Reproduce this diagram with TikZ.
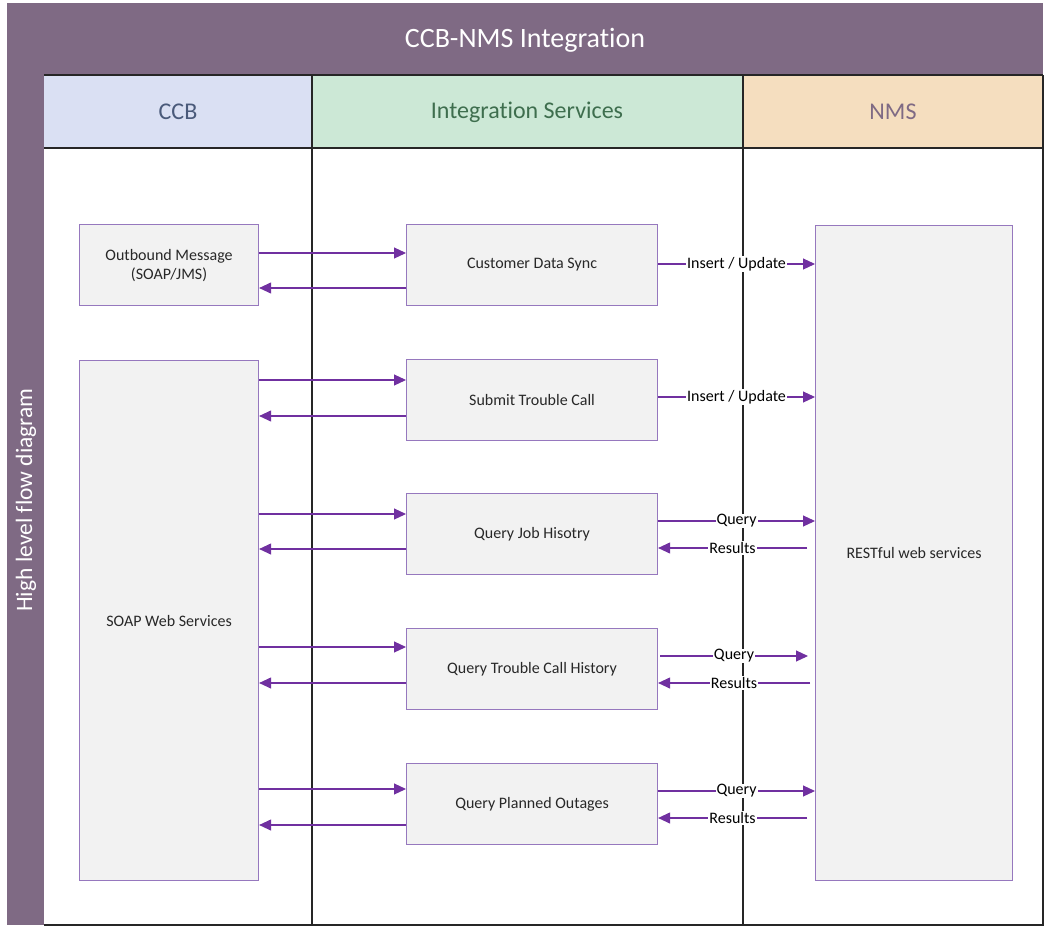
\documentclass[tikz,border=0pt]{standalone}
\usepackage{fontspec}
\setmainfont{Carlito}[Ligatures=NoCommon]
\usetikzlibrary{arrows.meta}
\definecolor{band}{RGB}{127,106,132}
\definecolor{hccb}{RGB}{218,224,243}
\definecolor{hint}{RGB}{204,232,214}
\definecolor{hnms}{RGB}{245,222,191}
\definecolor{tccb}{RGB}{74,90,122}
\definecolor{tint}{RGB}{62,110,78}
\definecolor{tnms}{RGB}{127,106,132}
\definecolor{boxfill}{RGB}{242,242,242}
\definecolor{boxline}{RGB}{150,120,190}
\definecolor{arr}{RGB}{112,48,160}
\definecolor{boxtext}{RGB}{40,40,40}
\tikzset{
  pbox/.style={draw=boxline, line width=1.1pt, fill=boxfill, inner sep=0pt, anchor=north west},
  btext/.style={font=\fontsize{16}{19}\selectfont, text=boxtext, align=center},
  flow/.style={draw=arr, line width=1.1pt, -{Triangle[length=12pt,width=11pt]}},
  lab/.style={fill=white, inner sep=1pt, font=\fontsize{16}{18}\selectfont, text=black},
  lane/.style={draw=black!85, line width=1.4pt},
  head/.style={font=\fontsize{24}{28}\selectfont},
}
\begin{document}
\begin{tikzpicture}[x=1pt,y=-1pt]
\useasboundingbox (0,0) rectangle (1052,937);
\fill[white] (0,0) rectangle (1052,937);
% title band and side strip
\fill[band] (7,3) rectangle (1043,75);
\fill[band] (7,75) rectangle (44,925);
\node[text=white, font=\fontsize{28}{32}\selectfont] (title) at (525,40) {CCB-NMS Integration};
\node[text=white, rotate=90, font=\fontsize{23.5}{28}\selectfont] (side) at (26,500) {High level flow diagram};
% header cells
\fill[hccb] (44,75) rectangle (312,148);
\fill[hint] (312,75) rectangle (743,148);
\fill[hnms] (743,75) rectangle (1043,148);
\node[text=tccb, head] (hc) at (178,112) {CCB};
\node[text=tint, head] (hi) at (527,112) {Integration Services};
\node[text=tnms, head] (hn) at (893,112) {NMS};
% body frame
\draw[lane] (44,148) -- (1043,148);
\draw[lane] (44,75) -- (1043,75);
\draw[lane] (1043,75) -- (1043,925) -- (44,925);
\draw[lane] (312,75) -- (312,925);
\draw[lane] (743,75) -- (743,925);
% boxes
\node[pbox, minimum width=179pt, minimum height=81pt] (ob) at (79,224) {};
\node[btext] at (ob.center) {Outbound Message\\(SOAP/JMS)};
\node[pbox, minimum width=179pt, minimum height=520pt] (soap) at (79,360) {};
\node[btext] at (soap.center) {SOAP Web Services};
\node[pbox, minimum width=251pt, minimum height=81pt] (cds) at (406,224) {};
\node[btext] at (cds.center) {Customer Data Sync};
\node[pbox, minimum width=251pt, minimum height=81pt] (stc) at (406,359) {};
\node[btext] at (stc.center) {Submit Trouble Call};
\node[pbox, minimum width=251pt, minimum height=81pt] (qjh) at (406,493) {};
\node[btext] at (qjh.center) {Query Job Hisotry};
\node[pbox, minimum width=251pt, minimum height=81pt] (qtch) at (406,628) {};
\node[btext] at (qtch.center) {Query Trouble Call History};
\node[pbox, minimum width=251pt, minimum height=81pt] (qpo) at (406,763) {};
\node[btext] at (qpo.center) {Query Planned Outages};
\node[pbox, minimum width=197pt, minimum height=655pt] (rest) at (815,225) {};
\node[btext] at (rest.center) {RESTful web services};
% CCB <-> Integration
\draw[flow] (ob.east |- 0,253) -- (cds.west |- 0,253);
\draw[flow] (cds.west |- 0,288) -- (ob.east |- 0,288);
\draw[flow] (soap.east |- 0,380) -- (stc.west |- 0,380);
\draw[flow] (stc.west |- 0,416) -- (soap.east |- 0,416);
\draw[flow] (soap.east |- 0,514) -- (qjh.west |- 0,514);
\draw[flow] (qjh.west |- 0,549) -- (soap.east |- 0,549);
\draw[flow] (soap.east |- 0,647) -- (qtch.west |- 0,647);
\draw[flow] (qtch.west |- 0,683) -- (soap.east |- 0,683);
\draw[flow] (soap.east |- 0,789) -- (qpo.west |- 0,789);
\draw[flow] (qpo.west |- 0,825) -- (soap.east |- 0,825);
% Integration <-> NMS
\draw[flow] (cds.east |- 0,264) -- node[lab]{Insert / Update} (rest.west |- 0,264);
\draw[flow] (stc.east |- 0,397) -- node[lab]{Insert / Update} (rest.west |- 0,397);
\draw[flow] (qjh.east |- 0,521) -- node[lab]{Query} (rest.west |- 0,521);
\coordinate (r1) at (807,548);
\draw[flow] (r1) -- node[lab]{Results} (qjh.east |- r1);
\coordinate (q2) at (660,656);
\draw[flow] (q2) -- node[lab]{Query} (808,656);
\coordinate (r2) at (810,683);
\draw[flow] (r2) -- node[lab]{Results} (qtch.east |- r2);
\draw[flow] (qpo.east |- 0,791) -- node[lab]{Query} (rest.west |- 0,791);
\coordinate (r3) at (807,818);
\draw[flow] (r3) -- node[lab]{Results} (qpo.east |- r3);
\end{tikzpicture}
\end{document}
